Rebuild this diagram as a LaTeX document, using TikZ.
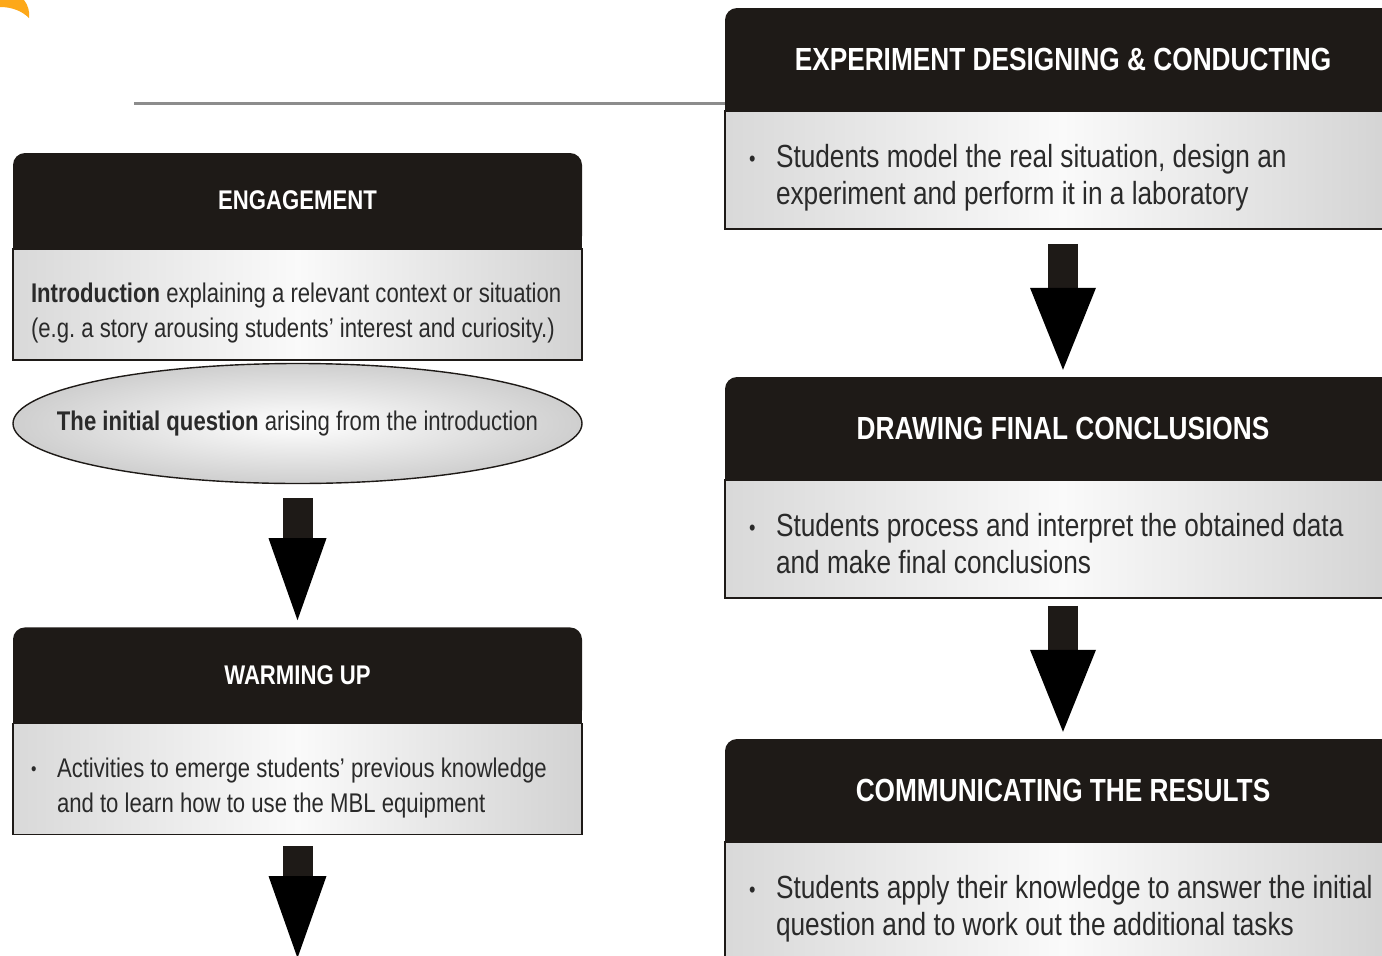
\documentclass[tikz,border=0pt]{standalone}
\usepackage{fontspec}
\setmainfont{Liberation Sans}[FakeStretch=0.82]
\usetikzlibrary{arrows.meta,positioning,shapes.geometric}
\definecolor{hdark}{RGB}{30,26,23}
\definecolor{tdark}{RGB}{42,42,42}
\definecolor{rulegray}{RGB}{140,140,140}
\definecolor{sun}{RGB}{253,168,25}
\frenchspacing
\newcommand{\smallbul}{\raisebox{.06em}{\scalebox{.7}{\textbullet}}}
\newcommand{\rows}[1]{\spaceskip=0pt\xspaceskip=0pt\begin{tabular}[t]{@{}l@{}}#1\end{tabular}}
\newcommand{\bul}[2]{\makebox[#1][l]{\smallbul}\rows{#2}}

\begin{document}
\begin{tikzpicture}[x=1pt,y=-1pt,
  head/.style={fill=hdark,rounded corners=12pt,text=white},
  lhead/.style={head,minimum width=569pt,minimum height=95pt,font=\bfseries\fontsize{27}{32}\selectfont},
  rhead/.style={head,minimum width=676pt,minimum height=102pt,font=\bfseries\fontsize{32}{37}\selectfont},
  body/.style={draw=hdark,line width=1.6pt,left color=gray!30,right color=gray!35,middle color=gray!4,text=tdark},
  lbody/.style={body,text width=533pt,inner xsep=18pt,minimum height=111pt,text height=42pt,font=\fontsize{27}{35}\selectfont},
  rbody/.style={body,text width=628pt,inner xsep=24pt,minimum height=118pt,text height=44pt,font=\fontsize{32}{37}\selectfont},
  question/.style={ellipse,draw=hdark,line width=1.4pt,minimum width=569pt,minimum height=120pt,inner color=white,outer color=gray!38},
  blockarrow/.style={draw=hdark,line width=30pt,-{Triangle[length=82pt,width=#1,line width'=0pt]}},
  blockarrow/.default=58pt]
\clip (0,0) rectangle (1382,956);
\fill[sun] (0,0) -- (24,0) .. controls (28,5) and (30,12) .. (29,18) .. controls (22,11) and (12,7) .. (0,7) -- cycle;

\node[lhead] (eng) at (297.5,200.5) {ENGAGEMENT};
\node[lbody] (engtxt) [below=0pt of eng] {\rows{\textbf{Introduction} explaining a relevant context or situation\\(e.g. a story arousing students' interest and curiosity.)}};
\node[question] (eq) [below=2pt of engtxt] {};
\node[text=tdark,font=\fontsize{27}{32}\selectfont] (eqtxt) at (eq) {\textbf{The initial question} arising from the introduction};
\node[lhead] (warm) [below=143pt of eq] {WARMING UP};
\node[lbody] (warmtxt) [below=0pt of warm] {\bul{26pt}{Activities to emerge students' previous knowledge\\and to learn how to use the MBL equipment}};
\coordinate (onward) at (297.5,958);

\node[rhead] (exp) at (1063,59) {EXPERIMENT DESIGNING \& CONDUCTING};
\node[rbody] (exptxt) [below=0pt of exp] {\bul{27pt}{Students model the real situation, design an\\experiment and perform it in a laboratory}};
\node[rhead] (concl) [below=147pt of exptxt] {DRAWING FINAL CONCLUSIONS};
\node[rbody] (concltxt) [below=0pt of concl] {\bul{27pt}{Students process and interpret the obtained data\\and make final conclusions}};
\node[rhead] (comm) [below=140pt of concltxt] {COMMUNICATING THE RESULTS};
\node[rbody] (commtxt) [below=0pt of comm] {\bul{27pt}{Students apply their knowledge to answer the initial\\question and to work out the additional tasks}};

\foreach \n in {eng,warm,exp,concl,comm}
  \fill[hdark] (\n.south west) rectangle ([yshift=12pt]\n.south east);

\coordinate (rulestart) at (134,103);
\draw[rulegray,line width=3pt] (rulestart) -- (rulestart -| exp.west);

\path[blockarrow] (eq) edge[shorten <=14pt,shorten >=7pt] (warm)
  (warmtxt) edge[shorten <=11pt] (onward);
\path[blockarrow=66pt] (exptxt) edge[shorten <=14pt,shorten >=7pt] (concl)
  (concltxt) edge[shorten <=7pt,shorten >=7pt] (comm);
\end{tikzpicture}
\end{document}
